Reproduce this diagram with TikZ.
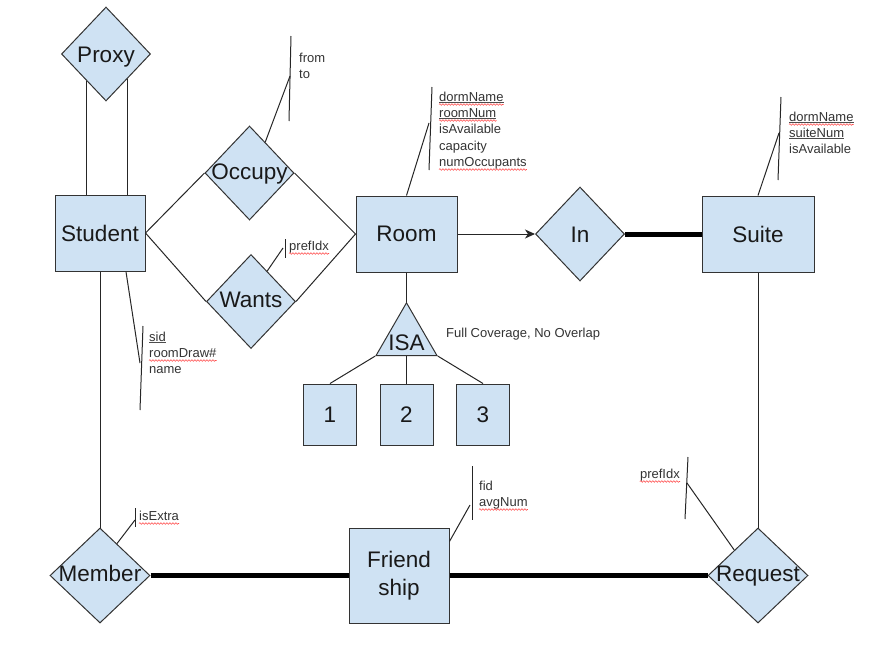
\documentclass[tikz,border=0pt]{standalone}
\usepackage{fontspec}
\setmainfont{Liberation Sans}
\usetikzlibrary{arrows.meta,shapes.geometric,decorations.pathmorphing}
\definecolor{boxblue}{HTML}{CFE2F3}
\newcommand\bigfont{\fontsize{22.5}{28}\selectfont}
\newcommand\smallfont{\fontsize{13}{16}\selectfont}
\tikzstyle{entity}=[rectangle,draw=black!80,fill=boxblue,line width=1pt,font=\bigfont,text=black!90,minimum height=76pt,inner sep=0pt]
\tikzstyle{relation}=[diamond,draw=black!80,fill=boxblue,line width=1pt,font=\bigfont,text=black!90,minimum width=89pt,minimum height=94pt,inner sep=0pt,text height=16pt]
\tikzstyle{isa}=[regular polygon,regular polygon sides=3,draw=black!80,fill=boxblue,line width=1pt,minimum size=70.4pt,inner sep=0pt]
\tikzstyle{edge}=[draw,line width=1pt,black!85]
\tikzstyle{total edge}=[edge,line width=5pt,black]
\tikzstyle{attr}=[font=\smallfont,text=black!80,inner sep=0pt,anchor=base west]
\tikzstyle{key line}=[draw,line width=0.7pt,black!70]
\tikzstyle{spell wave}=[draw,line width=0.6pt,red!70,decorate,decoration={snake,amplitude=0.8pt,segment length=3pt}]

\begin{document}
\begin{tikzpicture}[x=1pt,y=-1pt]
    \useasboundingbox (0,0) rectangle (871,646);
    % Entity sets first
    \foreach \pos/\name/\boxw/\txt in {{(100,233)/student/90/Student}, {(406.5,234)/room/101/Room}, {(758,234)/suite/112/Suite}}
        \node[entity,minimum width=\boxw pt] (\name) at \pos {\txt};
    \node[entity,minimum width=100pt,minimum height=95pt,align=center] (friendship) at (399,575.5) {Friend\\ship};
    \foreach \x/\n in {330/1, 406.5/2, 483/3}
        \node[entity,minimum width=53pt,minimum height=61pt] (sub\n) at (\x,414.5) {\n};
    \node[isa,label={[font=\bigfont,text=black!90,yshift=-5pt]center:ISA}] (isa) at (406.5,338) {};

    % Then the relationships
    \foreach \pos/\name/\lowby/\txt in {{(106,54)/proxy/0/Proxy}, {(249.5,173)/occupy/4/Occupy}, {(251,301.5)/wants/5/Wants}, {(580,234)/in/0/In}}
        \node[relation,text depth=\lowby pt] (\name) at \pos {\makebox[0pt]{\txt}};
    \foreach \pos/\name/\txt in {{(100,575.5)/member/Member}, {(758,575.5)/request/Request}}
        \node[relation,minimum width=100pt,minimum height=95pt,text depth=4.5pt] (\name) at \pos {\makebox[0pt]{\txt}};

    % Connect them
    \foreach \source/\dest in {student.east/occupy.west, occupy.east/room.west, student.east/wants.west, wants.east/room.west, room.south/isa.corner 1, isa.corner 2/sub1.north, isa.side 2/sub2.north, isa.corner 3/sub3.north, student.south/member.north, suite.south/request.north}
        \path[edge] (\source) -- (\dest);
    \path[edge] (proxy.-125) -- (proxy.-125 |- student.north);
    \path[edge] (proxy.-50) -- (proxy.-50 |- student.north);
    \path[edge,-{Stealth[length=10pt,width=9pt,inset=3pt]}] (room.east) -- (in.west);
    \foreach \source/\dest in {in.east/suite.west, member.east/friendship.west, friendship.east/request.west}
        \path[total edge] (\source) -- (\dest);

    % Attribute brackets: source anchor, joint, bar top, bar bottom
    \foreach \name/\src/\jx/\jy/\tx/\ty/\bx/\by in {occ/occupy.63/290/76/291/36/289/121, wan/wants.62/283/248/285/239/285/258, roo/room.north/429/123/432/87/429/170, sui/suite.north/779/133/781/97/778/180, stu/student.-56/140/363/143/326/140/410, mem/member.62/135/520/135/508/135/527, fri/friendship.34/470/505/472/466/472/520, req/request.133/687/483/688/457/685/519}
    {
        \coordinate (\name-joint) at (\jx,\jy);
        \coordinate (\name-top) at (\tx,\ty);
        \coordinate (\name-bot) at (\bx,\by);
        \path[edge] (\src) -- (\name-joint);
        \path[edge] (\name-top) -- (\name-bot);
    }

    % Attribute names, one node per line
    \foreach \pos/\name/\txt in {{(299,62)/occFrom/from}, {(299,78)/occTo/to}, {(289,250)/wanIdx/prefIdx},
        {(439,101)/rooDorm/dormName}, {(439,117)/rooNum/roomNum}, {(439,133)/rooAvail/isAvailable}, {(439,150)/rooCap/capacity}, {(439,166)/rooOcc/numOccupants},
        {(789,121)/suiDorm/dormName}, {(789,137)/suiNum/suiteNum}, {(789,153)/suiAvail/isAvailable},
        {(149,341)/stuSid/sid}, {(149,357)/stuDraw/roomDraw\#}, {(149,373)/stuName/name},
        {(139,520)/memExtra/isExtra}, {(479,490)/friFid/fid}, {(479,506)/friAvg/avgNum},
        {(446,337)/isaNote/{Full Coverage, No Overlap}}}
        \node[attr] (\name) at \pos {\txt};
    \node[attr,anchor=base east] (reqIdx) at (680,478) {prefIdx};

    % Key underlines and spelling marks
    \foreach \name in {rooDorm, rooNum, suiDorm, suiNum, stuSid}
        \path[key line] ([yshift=-1.5pt]\name.base west) -- ([yshift=-1.5pt]\name.base east);
    \foreach \name in {wanIdx, rooDorm, rooNum, rooOcc, suiDorm, stuDraw, memExtra, friAvg, reqIdx}
        \path[spell wave] ([yshift=-3.5pt]\name.base west) -- ([yshift=-3.5pt]\name.base east);
\end{tikzpicture}
\end{document}
